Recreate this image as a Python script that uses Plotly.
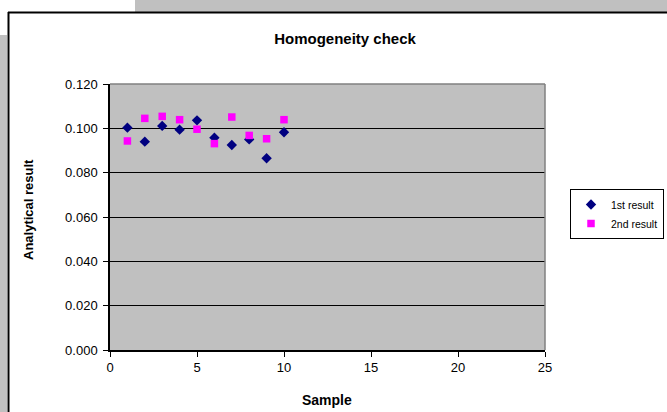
import plotly.graph_objects as go

samples = [1, 2, 3, 4, 5, 6, 7, 8, 9, 10]
first_result = [0.1003, 0.0940, 0.1011, 0.0994, 0.1036, 0.0958, 0.0925, 0.0950, 0.0865, 0.0982]
second_result = [0.0943, 0.1045, 0.1054, 0.1039, 0.0996, 0.0931, 0.1051, 0.0968, 0.0953, 0.1039]
y_ticks = [0.0, 0.02, 0.04, 0.06, 0.08, 0.10, 0.12]
x_ticks = [0, 5, 10, 15, 20, 25]

W, H = 667, 412
L, R, T, B = 110, 122, 84, 62
PW, PH = W - L - R, H - T - B


def px(x):
    return (x - L) / PW


def py(y):
    return (H - B - y) / PH


FONT = "Liberation Sans, Arial, sans-serif"

fig = go.Figure()
fig.add_trace(go.Scatter(
    x=samples, y=first_result, mode="markers", name="1st result",
    marker=dict(symbol="diamond", size=8, color="#000080"),
))
fig.add_trace(go.Scatter(
    x=samples, y=second_result, mode="markers", name="2nd result",
    marker=dict(symbol="square", size=7.5, color="#FF00FF"),
))

shapes = [
    dict(type="rect", xref="paper", yref="paper", x0=px(135), x1=px(667), y0=py(12), y1=py(0),
         fillcolor="#C0C0C0", line=dict(width=0), layer="below"),
    dict(type="rect", xref="paper", yref="paper", x0=px(0), x1=px(7), y0=py(412), y1=py(35),
         fillcolor="#C0C0C0", line=dict(width=0), layer="below"),
    dict(type="line", xref="paper", yref="paper", x0=px(8), x1=px(667), y0=py(12.5), y1=py(12.5),
         line=dict(color="black", width=2)),
    dict(type="line", xref="paper", yref="paper", x0=px(8.5), x1=px(8.5), y0=py(12), y1=py(412),
         line=dict(color="black", width=2)),
    dict(type="line", xref="paper", yref="paper", x0=0, x1=1, y0=1, y1=1,
         line=dict(color="#808080", width=1.5), layer="above"),
    dict(type="line", xref="paper", yref="paper", x0=1, x1=1, y0=0, y1=1,
         line=dict(color="#808080", width=1.5), layer="above"),
]

fig.update_layout(
    width=W, height=H,
    margin=dict(l=L, r=R, t=T, b=B, pad=0, autoexpand=False),
    paper_bgcolor="white",
    plot_bgcolor="#C0C0C0",
    font=dict(family=FONT, color="black", size=12),
    title=dict(text="<b>Homogeneity check</b>", x=px(345), xref="paper", xanchor="center",
               y=1 - 39 / H, yanchor="middle", font=dict(size=15, family=FONT, color="black")),
    showlegend=True,
    legend=dict(x=px(570), y=py(189), xanchor="left", yanchor="top",
                bordercolor="black", borderwidth=1, bgcolor="white",
                font=dict(size=10.5, family=FONT, color="black"),
                itemwidth=30, tracegroupgap=2),
    shapes=shapes,
    annotations=[
        dict(text="<b>Analytical result</b>", xref="paper", yref="paper", x=px(28), y=py(210),
             textangle=-90, showarrow=False, xanchor="center", yanchor="middle",
             font=dict(size=13, family=FONT, color="black")),
        dict(text="<b>Sample</b>", xref="paper", yref="paper", x=px(327), y=py(400),
             showarrow=False, xanchor="center", yanchor="middle",
             font=dict(size=14, family=FONT, color="black")),
    ],
)

fig.update_xaxes(
    range=[0, 25], tickvals=x_ticks, ticktext=[str(v) for v in x_ticks],
    showgrid=False, zeroline=False, showline=True, linecolor="black", linewidth=1.5,
    ticks="outside", ticklen=5, tickcolor="black", tickwidth=1,
    tickfont=dict(size=13, family=FONT, color="black"),
)
fig.update_yaxes(
    range=[0, 0.12], tickvals=y_ticks, ticktext=[f"{v:.3f}" for v in y_ticks],
    showgrid=True, gridcolor="black", gridwidth=1, zeroline=False,
    showline=True, linecolor="black", linewidth=1.5,
    ticks="outside", ticklen=5, tickcolor="black", tickwidth=1, ticklabelstandoff=3,
    tickfont=dict(size=13, family=FONT, color="black"),
)

fig.write_html("out.html")
